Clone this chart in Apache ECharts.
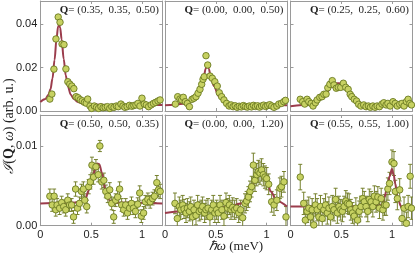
<!DOCTYPE html>
<html><head><meta charset="utf-8">
<script src="https://cdn.jsdelivr.net/npm/echarts@6/dist/echarts.min.js"></script>
<style>html,body{margin:0;padding:0;background:#fff}#c{width:415px;height:260px}</style>
</head><body><div id="c"></div>
<script>
// ---------- tick labels ----------
const xTickVals = [0, 0.5, 1];
const xTickLabels = ['0', '0.5', '1'];
const topYTickVals = [0, 0.02, 0.04];
const topYTickLabels = ['0.00', '0.02', '0.04'];
const botYTickVals = [0, 0.01];
const botYTickLabels = ['0.00', '0.01'];
const qLabels = ['(0.35,  0.35,  0.50)', '(0.00,  0.00,  0.50)', '(0.25,  0.25,  0.60)',
                 '(0.50,  0.50,  0.35)', '(0.00,  0.00,  1.20)', '(0.55,  0.55,  1.00)'];

// ---------- panel 1 ----------
const p1x = [0.094,0.114,0.134,0.154,0.176,0.194,0.214,0.233,0.252,0.271,0.29,0.31,0.33,0.352,0.372,0.393,0.413,0.434,0.452,0.466,0.489,0.505,0.531,0.553,0.573,0.596,0.618,0.638,0.66,0.683,0.703,0.725,0.748,0.767,0.793,0.813,0.832,0.854,0.877,0.9,0.92,0.94,0.96,0.98,1.0,1.022,1.043,1.065,1.09,1.113,1.135,1.158,1.178];
const p1y = [0.0055,0.0078,0.0193,0.0332,0.0433,0.0409,0.0309,0.0306,0.0194,0.0135,0.0124,0.0115,0.0103,0.0066,0.0061,0.0052,0.0047,0.004,0.0036,0.0055,0.0023,0.0012,0.0023,0.0017,0.0012,0.002,0.0015,0.0017,0.002,0.0012,0.002,0.0017,0.0023,0.002,0.0032,0.0023,0.0017,0.002,0.0026,0.0022,0.0025,0.0028,0.0035,0.0023,0.0059,0.0032,0.0028,0.002,0.0028,0.0035,0.004,0.0046,0.0051];
const f1x = [0,0.05,0.08,0.1,0.12,0.14,0.16,0.175,0.185,0.195,0.21,0.23,0.25,0.27,0.3,0.33,0.37,0.42,0.5,0.7,1.2];
const f1y = [0.0042,0.0055,0.0075,0.0100,0.0150,0.0235,0.0335,0.0390,0.0398,0.0385,0.0330,0.0240,0.0165,0.0115,0.0075,0.0055,0.0042,0.0034,0.0030,0.0028,0.0028];

// ---------- panel 2 ----------
const p2x = [0.102,0.125,0.147,0.164,0.18,0.2,0.22,0.24,0.266,0.285,0.305,0.325,0.344,0.361,0.374,0.386,0.403,0.42,0.443,0.465,0.49,0.514,0.534,0.557,0.58,0.606,0.63,0.65,0.67,0.69,0.71,0.73,0.75,0.77,0.79,0.81,0.83,0.85,0.87,0.89,0.91,0.93,0.95,0.97,0.99,1.01,1.03,1.05,1.072,1.1,1.12,1.145,1.168,1.185];
const p2y = [0.0032,0.0066,0.0055,0.0051,0.0063,0.0043,0.0035,0.002,0.0054,0.0059,0.0066,0.0082,0.01,0.0123,0.0146,0.0158,0.0255,0.0212,0.0161,0.0151,0.0135,0.0115,0.0084,0.0066,0.0051,0.0035,0.0023,0.0028,0.002,0.0024,0.0017,0.0022,0.0019,0.0025,0.0021,0.0018,0.0023,0.0019,0.0026,0.0021,0.0024,0.0018,0.0023,0.0027,0.0021,0.0025,0.0029,0.0023,0.0017,0.0023,0.0032,0.0035,0.0043,0.0049];
const f2x = [0,0.1,0.2,0.26,0.31,0.35,0.38,0.40,0.415,0.43,0.45,0.48,0.53,0.58,0.65,0.75,1.2];
const f2y = [0.0027,0.0029,0.0035,0.0045,0.0066,0.0105,0.0155,0.0195,0.021,0.0195,0.016,0.0115,0.0068,0.0045,0.0034,0.0029,0.0027];

// ---------- panel 3 ----------
const p3x = [0.096,0.12,0.14,0.163,0.18,0.203,0.222,0.245,0.262,0.288,0.31,0.328,0.35,0.367,0.387,0.411,0.428,0.45,0.47,0.494,0.52,0.543,0.567,0.587,0.603,0.627,0.65,0.67,0.693,0.72,0.743,0.766,0.786,0.81,0.832,0.852,0.875,0.9,0.918,0.94,0.958,0.98,1.008,1.03,1.05,1.074,1.097,1.117,1.14,1.157,1.174,1.19];
const p3y = [0.0054,0.0043,0.0032,0.0054,0.0043,0.0035,0.0023,0.0038,0.0051,0.0063,0.0066,0.0077,0.0078,0.0107,0.0123,0.014,0.012,0.0105,0.0109,0.0109,0.0128,0.0109,0.01,0.0077,0.0066,0.0054,0.0046,0.0031,0.0023,0.0028,0.002,0.0023,0.0017,0.0023,0.0017,0.0023,0.002,0.0032,0.0038,0.0028,0.0035,0.0023,0.0043,0.0035,0.0023,0.0031,0.0035,0.0023,0.0043,0.0054,0.0035,0.0028];
const f3x = [0,0.2,0.3,0.35,0.4,0.44,0.48,0.52,0.56,0.6,0.65,0.7,0.8,1.2];
const f3y = [0.0022,0.003,0.0055,0.008,0.011,0.0127,0.0128,0.0115,0.0092,0.0068,0.0045,0.0033,0.0026,0.0024];

// ---------- panel 4 ----------
const p4x = [0.094,0.117,0.136,0.152,0.165,0.19,0.21,0.23,0.25,0.27,0.288,0.308,0.327,0.347,0.366,0.385,0.405,0.424,0.437,0.457,0.476,0.492,0.508,0.524,0.547,0.57,0.586,0.605,0.625,0.644,0.664,0.683,0.702,0.722,0.741,0.761,0.78,0.8,0.82,0.84,0.858,0.878,0.897,0.916,0.936,0.958,0.978,0.994,1.016,1.033,1.058,1.081,1.104,1.123,1.146,1.162,1.179];
const p4y = [0.0037,0.0026,0.0037,0.002,0.0026,0.0022,0.0029,0.0024,0.002,0.0032,0.0026,0.0026,0.0011,0.0046,0.0022,0.0028,0.0043,0.0046,0.0032,0.0024,0.0049,0.0055,0.0076,0.0061,0.0074,0.0064,0.01,0.0055,0.0057,0.0043,0.0037,0.0045,0.0028,0.0011,0.0032,0.0036,0.0046,0.0026,0.002,0.0026,0.0016,0.0022,0.0028,0.0022,0.0018,0.0027,0.0041,0.0012,0.0016,0.003,0.0033,0.003,0.0034,0.0037,0.0054,0.0045,0.0043];
const p4e = [0.0009,0.0008,0.0009,0.0008,0.0008,0.0008,0.0008,0.0008,0.0008,0.0008,0.0008,0.0008,0.0008,0.0009,0.0008,0.0008,0.0009,0.0009,0.0008,0.0008,0.0009,0.0009,0.001,0.0009,0.0009,0.0009,0.0007,0.0009,0.0009,0.0008,0.0008,0.0009,0.0008,0.0008,0.0008,0.0008,0.0009,0.0008,0.0008,0.0008,0.0008,0.0008,0.0008,0.0008,0.0008,0.0008,0.0009,0.0008,0.0008,0.0008,0.0008,0.0008,0.0008,0.0008,0.0009,0.0009,0.0009];
const f4x = [0,0.4,0.44,0.48,0.52,0.56,0.58,0.61,0.64,0.68,0.72,1.2];
const f4y = [0.0028,0.0029,0.0033,0.0045,0.0065,0.0078,0.0077,0.0065,0.0045,0.0032,0.0029,0.0028];

// ---------- panel 5 ----------
const p5x = [0.098,0.121,0.141,0.155,0.174,0.187,0.207,0.22,0.24,0.253,0.272,0.285,0.305,0.321,0.337,0.357,0.37,0.39,0.403,0.423,0.442,0.459,0.475,0.49,0.508,0.524,0.541,0.56,0.58,0.6,0.616,0.633,0.649,0.666,0.685,0.705,0.725,0.744,0.764,0.787,0.803,0.82,0.836,0.852,0.869,0.885,0.902,0.918,0.934,0.95,0.967,0.983,1.0,1.02,1.049,1.072,1.1,1.13,1.146,1.17,1.19];
const p5y = [0.0028,0.0009,0.0024,0.002,0.0026,0.0021,0.0016,0.0022,0.0018,0.0024,0.0011,0.002,0.0013,0.0026,0.0018,0.002,0.0024,0.0016,0.002,0.0022,0.0011,0.002,0.0026,0.0016,0.002,0.0016,0.0026,0.002,0.0012,0.0029,0.0022,0.0026,0.002,0.0023,0.002,0.0022,0.0016,0.002,0.001,0.0028,0.0031,0.0036,0.0043,0.0049,0.0076,0.0057,0.0064,0.0068,0.0066,0.007,0.0064,0.0061,0.0059,0.0052,0.003,0.0026,0.0032,0.0047,0.0049,0.0055,0.0011];
const p5e = [0.0013,0.0013,0.0012,0.0012,0.0012,0.0012,0.0012,0.0012,0.0012,0.0012,0.0012,0.0012,0.0012,0.0012,0.0012,0.0012,0.0012,0.0012,0.0012,0.0012,0.0012,0.0012,0.0012,0.0012,0.0012,0.0012,0.0012,0.0012,0.0012,0.0012,0.0012,0.0012,0.0012,0.0012,0.0012,0.0012,0.0012,0.0012,0.0012,0.0012,0.0012,0.0013,0.0013,0.0013,0.0015,0.0014,0.0014,0.0014,0.0014,0.0014,0.0014,0.0014,0.0014,0.0013,0.0013,0.0013,0.0013,0.0013,0.0013,0.0013,0.0013];
const f5x = [0,0.3,0.5,0.65,0.75,0.8,0.85,0.88,0.9,0.95,0.98,1.01,1.04,1.1,1.2];
const f5y = [0.0016,0.0019,0.0021,0.0025,0.0028,0.0034,0.0046,0.0055,0.0061,0.0066,0.0063,0.0053,0.0043,0.0031,0.0024];

// ---------- panel 6 ----------
const p6x = [0.096,0.13,0.146,0.163,0.18,0.196,0.213,0.229,0.245,0.262,0.279,0.295,0.312,0.328,0.345,0.362,0.378,0.395,0.411,0.428,0.444,0.461,0.477,0.494,0.511,0.527,0.544,0.56,0.577,0.593,0.61,0.626,0.643,0.66,0.676,0.693,0.71,0.726,0.743,0.76,0.775,0.792,0.81,0.825,0.842,0.859,0.875,0.892,0.909,0.925,0.941,0.958,0.974,0.998,1.018,1.031,1.051,1.074,1.097,1.117,1.14,1.157,1.177,1.19];
const p6y = [0.0061,0.0028,0.0007,0.0018,0.0022,0.0011,0.002,0.0001,0.0026,0.002,0.0011,0.0024,0.0009,0.002,0.0026,0.0016,0.0022,0.0011,0.0024,0.002,0.0033,0.0016,0.0024,0.002,0.0018,0.0024,0.0031,0.0028,0.0027,0.002,0.0016,0.0012,0.0022,0.0007,0.0018,0.0024,0.0034,0.003,0.0024,0.0018,0.0033,0.003,0.0024,0.0037,0.003,0.0036,0.0022,0.0034,0.002,0.0026,0.0026,0.0046,0.0053,0.008,0.0078,0.0043,0.0034,0.0045,0.0009,0.0022,0.0003,0.0024,0.0062,0.0022];
const p6e = [0.0016,0.0014,0.0014,0.0014,0.0014,0.0014,0.0014,0.0014,0.0014,0.0014,0.0014,0.0014,0.0014,0.0014,0.0014,0.0014,0.0014,0.0014,0.0014,0.0014,0.0014,0.0013,0.0013,0.0013,0.0013,0.0013,0.0013,0.0013,0.0013,0.0013,0.0013,0.0013,0.0013,0.0013,0.0013,0.0013,0.0013,0.0013,0.0013,0.0013,0.0013,0.0013,0.0013,0.0013,0.0013,0.0013,0.0013,0.0013,0.0013,0.0013,0.0013,0.0014,0.0014,0.0015,0.0015,0.0014,0.0014,0.0014,0.0014,0.0014,0.0014,0.0014,0.0015,0.0014];
const f6x = [0,0.8,0.9,0.925,0.95,0.975,0.998,1.015,1.03,1.058,1.09,1.2];
const f6y = [0.0024,0.0024,0.0026,0.0036,0.0048,0.0062,0.0071,0.0064,0.0053,0.0032,0.0024,0.0024];

// ---------- layout / style ----------
const panels = [
  {x:p1x,y:p1y,e:null,fx:f1x,fy:f1y},
  {x:p2x,y:p2y,e:null,fx:f2x,fy:f2y},
  {x:p3x,y:p3y,e:null,fx:f3x,fy:f3y},
  {x:p4x,y:p4y,e:p4e,fx:f4x,fy:f4y},
  {x:p5x,y:p5y,e:p5e,fx:f5x,fy:f5y},
  {x:p6x,y:p6y,e:p6e,fx:f6x,fy:f6y}
];
const colLeft = [40.3, 165, 290.5], colW = [122, 122, 122];
const rowTop = [1, 115], rowH = [110, 110.7];
const yMax = [0.0507, 0.01389], yInt = [0.02, 0.01];
const frameColor = '#9a9a9a';
const fillColor = '#c7d162', edgeColor = '#6b7a22', lineColor = '#9b3c4c', ebColor = '#76812e';
const labelFont = 'Liberation Sans';
const serif = 'Liberation Serif';

function pick(v, vals, labels) {
  for (let k = 0; k < vals.length; k++) if (Math.abs(v - vals[k]) < 1e-9) return labels[k];
  return '';
}

const grid = [], xAxis = [], yAxis = [], series = [], graphic = [];
panels.forEach((p, i) => {
  const r = Math.floor(i / 3), c = i % 3;
  grid.push({left: colLeft[c], top: rowTop[r], width: colW[c], height: rowH[r], show: false});
  const tick = {show: true, inside: true, length: 3, lineStyle: {color: frameColor, width: 1}};
  const aLine = {show: true, onZero: false, lineStyle: {color: frameColor, width: 1}};
  const common = {gridIndex: i, type: 'value', min: 0, max: 1.2, interval: 0.5,
    axisLine: aLine, axisTick: tick, splitLine: {show: false}, splitArea: {show: false}, minorTick: {show: false}};
  xAxis.push(Object.assign({}, common, {position: 'bottom',
    axisLabel: {show: r === 1, margin: 4, fontSize: 11, color: '#222', fontFamily: labelFont,
      showMaxLabel: false, formatter: v => pick(v, xTickVals, xTickLabels)}}));
  xAxis.push(Object.assign({}, common, {position: 'top', axisLabel: {show: false}}));
  const yv = r === 0 ? topYTickVals : botYTickVals, yl = r === 0 ? topYTickLabels : botYTickLabels;
  const ycommon = {gridIndex: i, type: 'value', min: 0, max: yMax[r], interval: yInt[r],
    axisLine: aLine, axisTick: tick, splitLine: {show: false}, splitArea: {show: false}, minorTick: {show: false}};
  yAxis.push(Object.assign({}, ycommon, {position: 'left',
    axisLabel: {show: c === 0, margin: 3, fontSize: 11, color: '#222', fontFamily: labelFont,
      showMaxLabel: false, formatter: v => pick(v, yv, yl)}}));
  yAxis.push(Object.assign({}, ycommon, {position: 'right', axisLabel: {show: false}}));

  const xi = 2 * i, yi = 2 * i;
  if (p.e) {
    series.push({type: 'custom', xAxisIndex: xi, yAxisIndex: yi, silent: true, clip: true, z: 1,
      data: p.x.map((x, k) => [x, p.y[k], p.e[k]]),
      renderItem: (params, api) => {
        const x = api.value(0), y = api.value(1), e = api.value(2);
        const lo = api.coord([x, y - e]), hi = api.coord([x, y + e]);
        const w = 2, st = {stroke: ebColor, lineWidth: 1};
        return {type: 'group', children: [
          {type: 'line', shape: {x1: lo[0], y1: lo[1], x2: hi[0], y2: hi[1]}, style: st},
          {type: 'line', shape: {x1: lo[0] - w, y1: lo[1], x2: lo[0] + w, y2: lo[1]}, style: st},
          {type: 'line', shape: {x1: hi[0] - w, y1: hi[1], x2: hi[0] + w, y2: hi[1]}, style: st}
        ]};
      }});
  }
  series.push({type: 'line', xAxisIndex: xi, yAxisIndex: yi, z: 2, silent: true,
    data: p.fx.map((x, k) => [x, p.fy[k]]), showSymbol: false, smooth: 0.35, smoothMonotone: 'x',
    lineStyle: {color: lineColor, width: 2}});
  series.push({type: 'scatter', xAxisIndex: xi, yAxisIndex: yi, z: 3, silent: true,
    data: p.x.map((x, k) => [x, p.y[k]]), symbol: 'circle', symbolSize: 6.5,
    itemStyle: {color: fillColor, borderColor: edgeColor, borderWidth: 0.9, opacity: 1}});

  graphic.push({type: 'text', x: colLeft[c] + colW[c] - 3.5, y: rowTop[r] + 9.5, z: 10,
    style: {text: '{b|Q}= ' + qLabels[i], fontSize: 11, fontFamily: serif, fill: '#222',
      align: 'right', verticalAlign: 'middle',
      rich: {b: {fontWeight: 'bold', fontSize: 11, fontFamily: serif, fill: '#222'}}}});
});

graphic.push({type: 'text', x: 236, y: 247, z: 10,
  style: {text: '{i|ℏω} (meV)', fontSize: 13, fontFamily: serif, fill: '#222', align: 'center', verticalAlign: 'middle',
    rich: {i: {fontStyle: 'italic', fontSize: 13, fontFamily: serif, fill: '#222'}}}});
graphic.push({type: 'text', x: 9, y: 126, rotation: Math.PI / 2, z: 10,
  style: {text: '{i|ℐ}({b|Q}, {i|ω}) (arb. u.)', fontSize: 14, fontFamily: serif, fill: '#222', align: 'center', verticalAlign: 'middle',
    rich: {i: {fontStyle: 'italic', fontSize: 14, fontFamily: serif, fill: '#222'},
           b: {fontWeight: 'bold', fontSize: 14, fontFamily: serif, fill: '#222'}}}});

const chart = echarts.init(document.getElementById('c'), null, {renderer: 'canvas'});
chart.setOption({animation: false, backgroundColor: '#fff', grid, xAxis, yAxis, series, graphic});
</script>
</body></html>
